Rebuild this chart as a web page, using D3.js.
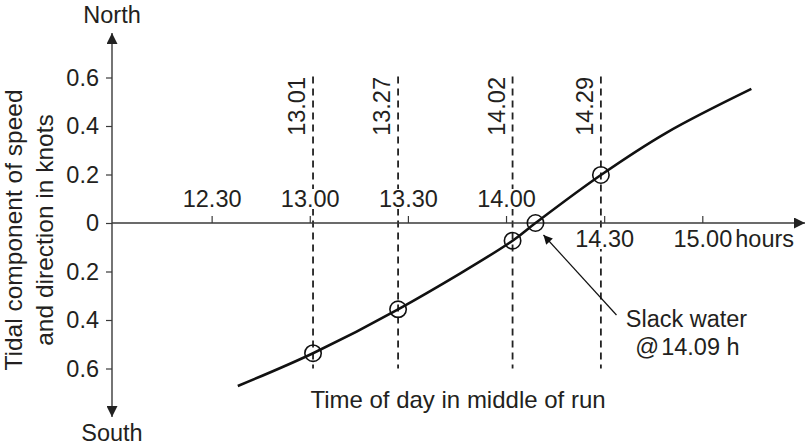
<!DOCTYPE html>
<html>
<head>
<meta charset="utf-8">
<script src="https://cdn.jsdelivr.net/npm/d3@7"></script>
<style>
  html, body { margin: 0; padding: 0; background: #fff; }
  svg { display: block; font-family: "Liberation Sans", Arial, Helvetica, sans-serif; }
  text { fill: #231f20; }
</style>
</head>
<body>
<svg id="chart" width="807" height="448"></svg>
<script>
// ---- data ----
const xTickLabels = ["12.30", "13.00", "13.30", "14.00", "14.30", "15.00"];
const xTicksBelow = ["14.30", "15.00"];
const yTickValues = [0.6, 0.4, 0.2, 0, -0.2, -0.4, -0.6];
const runTimes = ["13.01", "13.27", "14.02", "14.29"];
const runSpeeds = [-0.537, -0.356, -0.073, 0.198];
const slackTime = "14.09";
const slackSpeed = 0;
const curveTimes = ["12.38", "13.01", "13.27", "14.02", "14.09", "14.29", "14.49", "15.15"];
const curveSpeeds = [-0.672, -0.537, -0.356, -0.073, 0, 0.198, 0.372, 0.553];

const parseT = s => { const [h, m] = s.split(".").map(Number); return (h - 12) * 60 + m; };

const svg = d3.select("#chart");
const ink = "#231f20";
const axisInk = "#3a3a3a";
const FS = 23.5;

const x = d3.scaleLinear().domain([0, 180]).range([113.5, 702.3]);
const y = d3.scaleLinear().domain([-0.6, 0.6]).range([368.5, 77.5]);
const x0 = x(0) - 1.5, y0 = y(0);

// arrow markers
const defs = svg.append("defs");
defs.append("marker").attr("id", "axArrow").attr("viewBox", "0 0 10 10")
  .attr("refX", 10).attr("refY", 5).attr("markerWidth", 12).attr("markerHeight", 11)
  .attr("markerUnits", "userSpaceOnUse").attr("orient", "auto")
  .append("path").attr("d", "M0,0 L10,5 L0,10 Z").attr("fill", "#222");
defs.append("marker").attr("id", "noteArrow").attr("viewBox", "0 0 10 10")
  .attr("refX", 10).attr("refY", 5).attr("markerWidth", 12).attr("markerHeight", 9)
  .attr("markerUnits", "userSpaceOnUse").attr("orient", "auto")
  .append("path").attr("d", "M0,0 L10,5 L0,10 Z").attr("fill", "#111");

// dashed verticals
svg.append("g").selectAll("line").data(runTimes).join("line")
  .attr("x1", d => x(parseT(d))).attr("x2", d => x(parseT(d)))
  .attr("y1", y(0.6) - 1).attr("y2", y(-0.6))
  .attr("stroke", "#222").attr("stroke-width", 1.8).attr("stroke-dasharray", "7,5");

// dashed line labels
svg.append("g").selectAll("text").data(runTimes).join("text")
  .attr("transform", d => `translate(${x(parseT(d)) - 8},${y(0.6) - 0.5}) rotate(-90)`)
  .attr("text-anchor", "end").attr("font-size", FS).text(d => d);

// y axis
const yAxis = svg.append("g").attr("transform", `translate(${x0},0)`)
  .call(d3.axisLeft(y).tickValues(yTickValues).tickSize(6).tickPadding(7)
    .tickFormat(d => d === 0 ? "0" : Math.abs(d).toFixed(1)));
yAxis.select(".domain").remove();
yAxis.selectAll(".tick line").attr("stroke", axisInk).attr("stroke-width", 1.2);
yAxis.selectAll(".tick text").attr("font-size", FS).attr("fill", ink)
  .attr("font-family", "Liberation Sans, Arial, sans-serif");
svg.append("line").attr("x1", x0).attr("x2", x0).attr("y1", y0).attr("y2", 33)
  .attr("stroke", axisInk).attr("stroke-width", 1.4).attr("marker-end", "url(#axArrow)");
svg.append("line").attr("x1", x0).attr("x2", x0).attr("y1", y0).attr("y2", 417)
  .attr("stroke", axisInk).attr("stroke-width", 1.4).attr("marker-end", "url(#axArrow)");

// x axis
const xAxis = svg.append("g").attr("transform", `translate(0,${y0})`)
  .call(d3.axisTop(x).tickValues(xTickLabels.map(parseT)).tickSize(7).tickPadding(9)
    .tickFormat((d, i) => xTickLabels[i]));
xAxis.select(".domain").remove();
xAxis.selectAll(".tick line").attr("stroke", axisInk).attr("stroke-width", 1.2);
xAxis.selectAll(".tick text").attr("font-size", FS).attr("fill", ink)
  .attr("font-family", "Liberation Sans, Arial, sans-serif");
xAxis.selectAll(".tick text").filter((d, i) => xTicksBelow.includes(xTickLabels[i]))
  .attr("y", 24).attr("dy", "0");
// knock out dashed lines behind tick labels
xAxis.selectAll(".tick").each(function () {
  const t = d3.select(this).select("text");
  const b = t.node().getBBox();
  d3.select(this).insert("rect", "text")
    .attr("x", b.x + 1).attr("y", b.y + 3).attr("width", b.width - 2).attr("height", b.height - 6)
    .attr("fill", "#fff");
});
svg.append("line").attr("x1", x0).attr("x2", 805).attr("y1", y0).attr("y2", y0)
  .attr("stroke", axisInk).attr("stroke-width", 1.4).attr("marker-end", "url(#axArrow)");
svg.append("text").attr("x", x(180) + 33).attr("y", y0 + 24).attr("font-size", FS)
  .text("hours");

// axis words
svg.append("text").attr("x", x0).attr("y", 23).attr("text-anchor", "middle").attr("font-size", FS).text("North");
svg.append("text").attr("x", x0).attr("y", 441).attr("text-anchor", "middle").attr("font-size", FS).text("South");

// y title
const yt = svg.append("text").attr("transform", "translate(0,230) rotate(-90)")
  .attr("text-anchor", "middle").attr("font-size", 24.5);
yt.append("tspan").attr("x", 0).attr("y", 22).text("Tidal component of speed");
yt.append("tspan").attr("x", 0).attr("y", 53).text("and direction in knots");

// x title
svg.append("text").attr("x", 458).attr("y", 408).attr("text-anchor", "middle")
  .attr("font-size", 24).text("Time of day in middle of run");

// curve
const curvePts = curveTimes.map((t, i) => [parseT(t), curveSpeeds[i]]);
svg.append("path").datum(curvePts)
  .attr("d", d3.line().x(d => x(d[0])).y(d => y(d[1])).curve(d3.curveCatmullRom.alpha(0.5)))
  .attr("fill", "none").attr("stroke", "#111").attr("stroke-width", 2.6);

// circles
const pts = runTimes.map((t, i) => [parseT(t), runSpeeds[i]]).concat([[parseT(slackTime), slackSpeed]]);
svg.append("g").selectAll("circle").data(pts).join("circle")
  .attr("cx", d => x(d[0])).attr("cy", d => y(d[1])).attr("r", 8.2)
  .attr("fill", "none").attr("stroke", "#111").attr("stroke-width", 1.6);

// slack annotation
const sx = x(parseT(slackTime)), sy = y(slackSpeed);
svg.append("line").attr("x1", sx + 81).attr("y1", sy + 92).attr("x2", sx + 8).attr("y2", sy + 12)
  .attr("stroke", "#111").attr("stroke-width", 1.2).attr("marker-end", "url(#noteArrow)");
svg.append("text").attr("x", sx + 151).attr("y", sy + 104).attr("text-anchor", "middle")
  .attr("font-size", FS).text("Slack water");
svg.append("text").attr("x", sx + 152).attr("y", sy + 132).attr("text-anchor", "middle")
  .attr("font-size", FS).text("@\u200a" + slackTime + " h");
</script>
</body>
</html>
